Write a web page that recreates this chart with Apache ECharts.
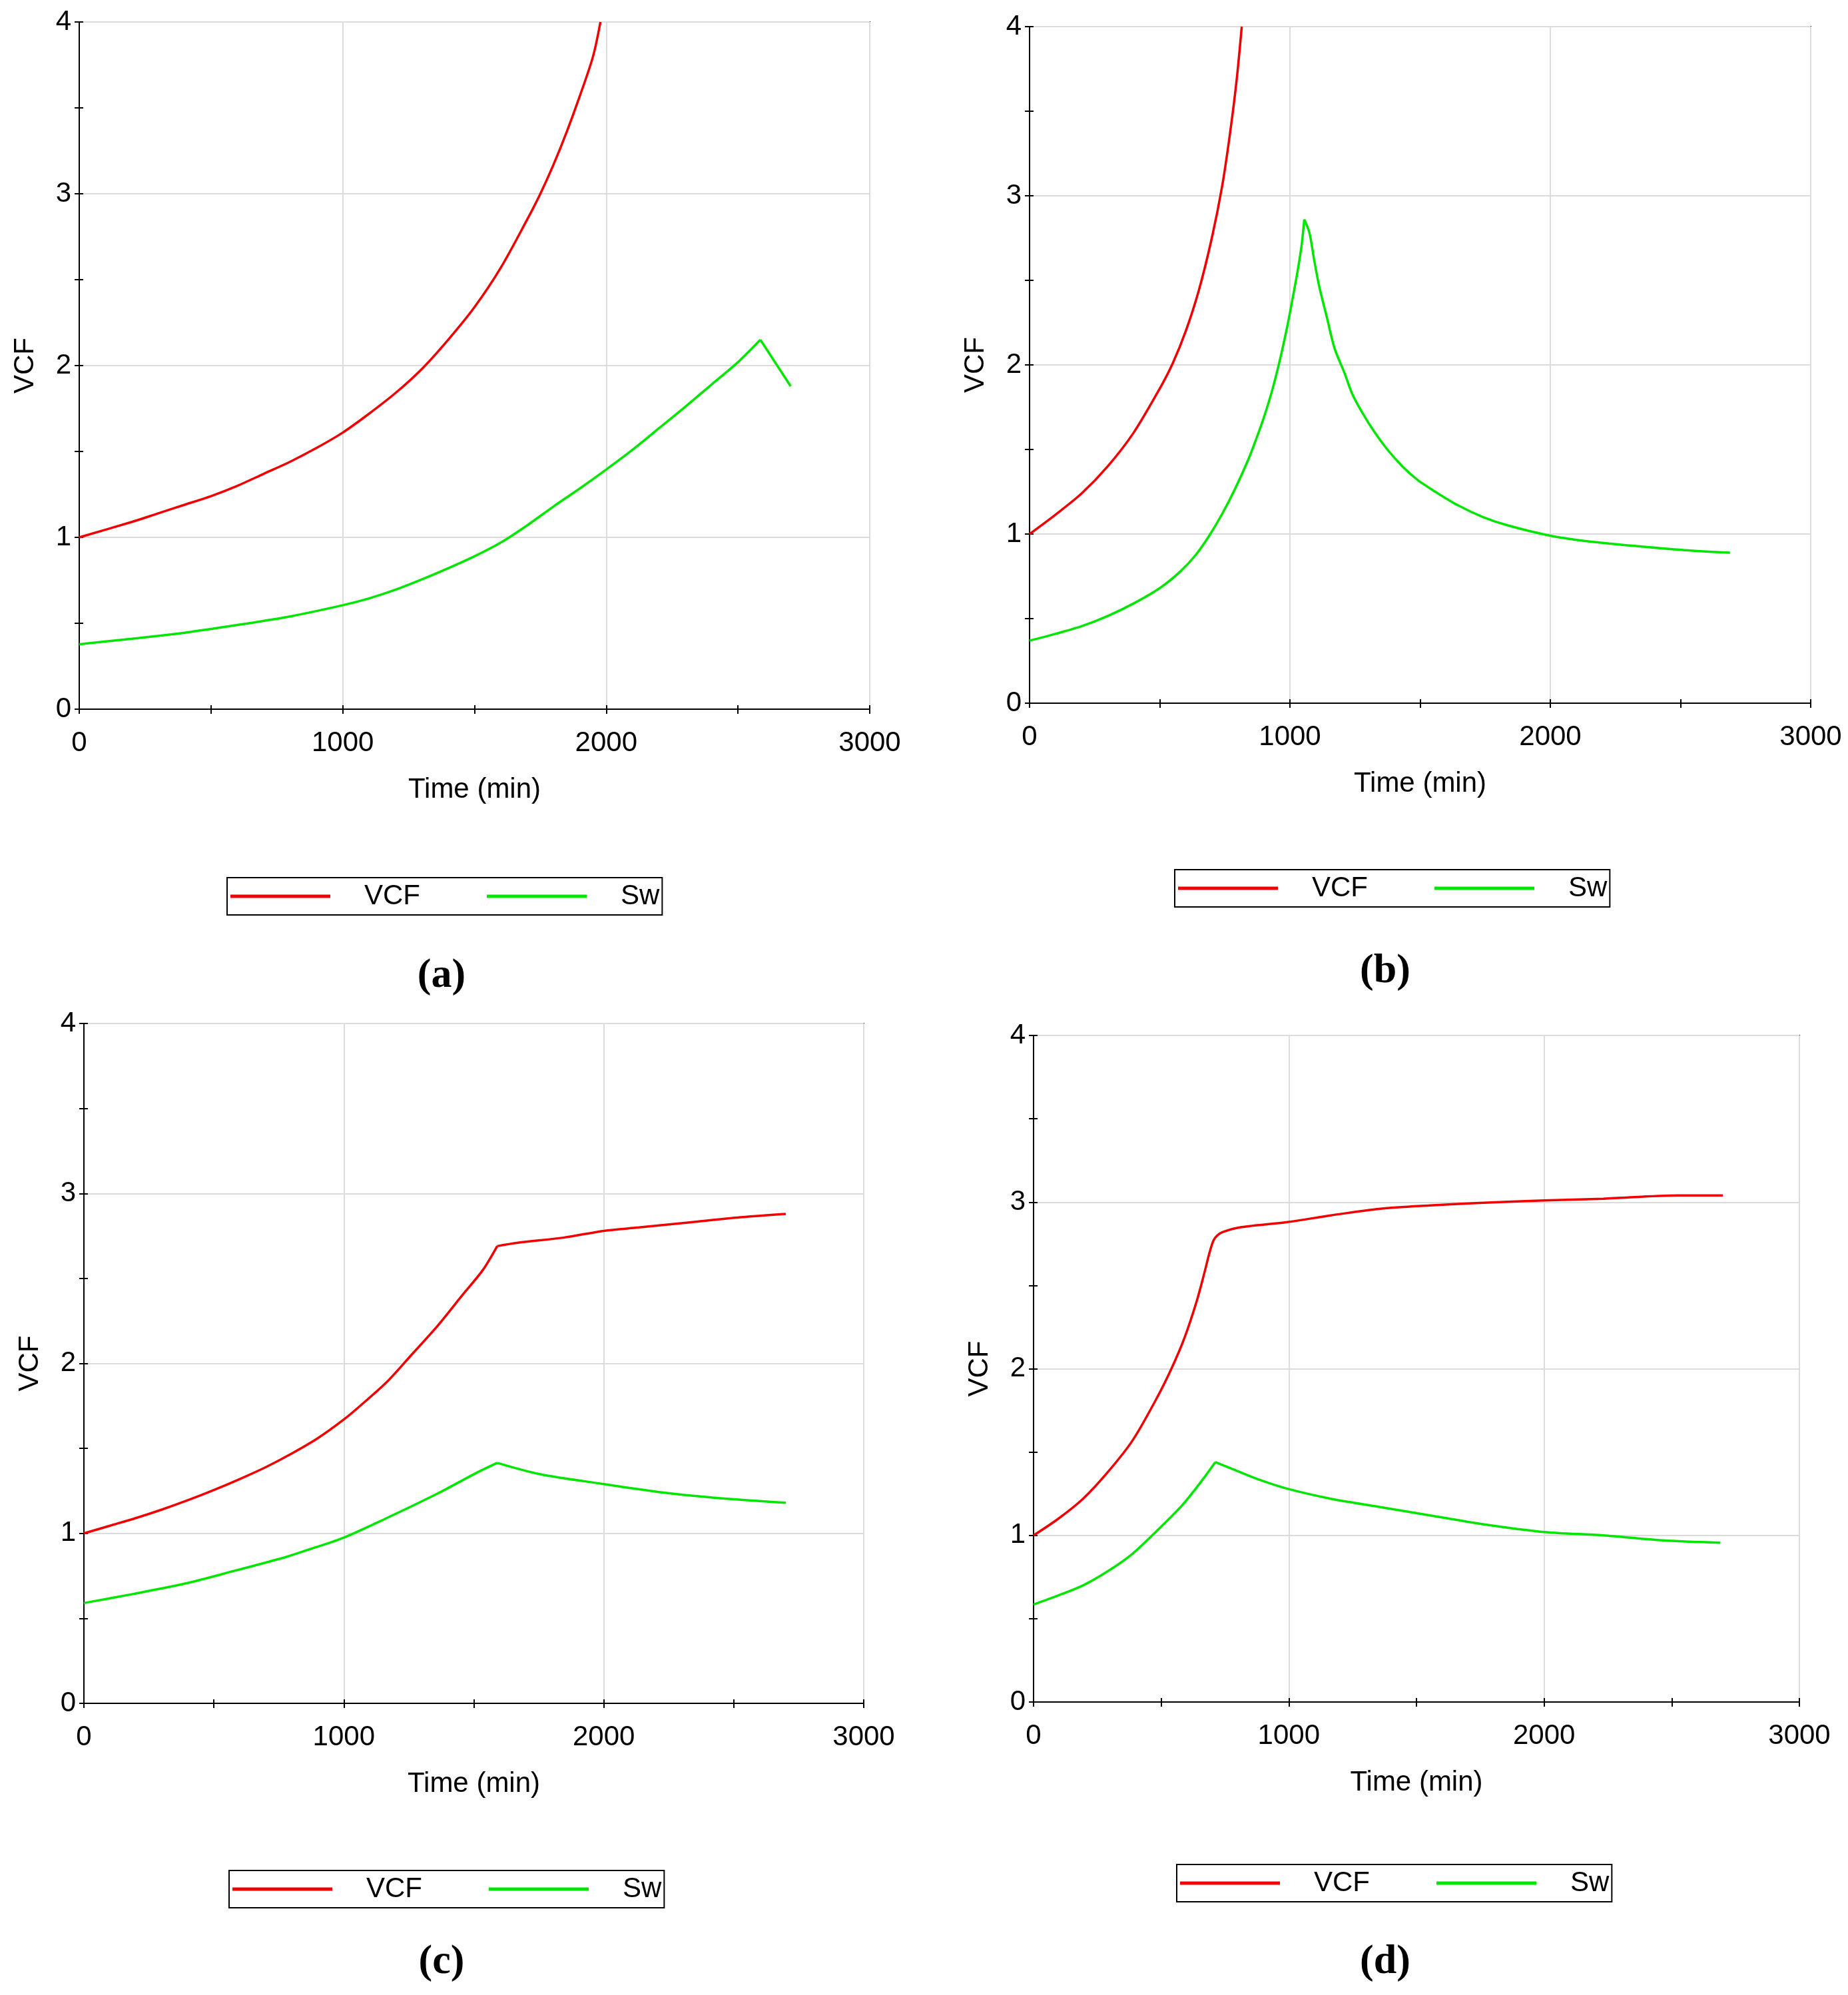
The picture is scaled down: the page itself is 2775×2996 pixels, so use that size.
<!DOCTYPE html>
<html>
<head>
<meta charset="utf-8">
<script src="https://cdn.jsdelivr.net/npm/echarts@6/dist/echarts.min.js"></script>
<style>
html,body{margin:0;padding:0;background:#fff;}
#chart{width:2775px;height:2996px;}
</style>
</head>
<body>
<div id="chart"></div>
<script>
// ---- data ----
const xTicks = [0, 1000, 2000, 3000];
const yTicks = [0, 1, 2, 3, 4];
const seriesNames = ['VCF', 'Sw'];
const panelLetters = ['a', 'b', 'c', 'd'];

const timeVcfA = [0,200,300,400,500,600,700,800,900,1000,1100,1200,1300,1400,1500,1600,1700,1750,1800,1850,1900,1950,1978];
const vcfA     = [1.00,1.09,1.14,1.19,1.24,1.30,1.37,1.44,1.52,1.61,1.72,1.84,1.98,2.15,2.34,2.57,2.85,3.00,3.17,3.36,3.57,3.80,4.00];
const timeSwA  = [0,200,400,600,800,1000,1100,1200,1300,1400,1500,1600,1700,1800,1900,2000,2100,2200,2300,2400,2500,2585,2700];
const swA      = [0.378,0.41,0.445,0.49,0.54,0.605,0.645,0.695,0.755,0.82,0.89,0.97,1.07,1.18,1.285,1.395,1.51,1.635,1.76,1.89,2.02,2.15,1.88];

const timeVcfB = [0,100,200,300,400,500,550,600,650,700,740,770,795,815];
const vcfB     = [1.00,1.115,1.24,1.40,1.60,1.86,2.01,2.20,2.44,2.75,3.06,3.37,3.68,4.00];
const timeSwB  = [0,100,200,300,400,500,580,640,690,740,790,840,870,900,930,960,990,1010,1030,1045,1055,1075,1093,1113,1142,1171,1210,1239,1277,1326,1374,1432,1490,1548,1645,1742,1839,2000,2129,2322,2516,2690];
const swB      = [0.37,0.41,0.455,0.515,0.59,0.68,0.78,0.88,0.99,1.12,1.27,1.44,1.56,1.69,1.84,2.02,2.23,2.39,2.56,2.71,2.86,2.78,2.62,2.46,2.28,2.10,1.95,1.83,1.72,1.60,1.50,1.40,1.32,1.26,1.17,1.10,1.05,0.99,0.96,0.93,0.905,0.89];

const timeVcfC = [0,100,200,300,400,500,600,700,800,900,1000,1070,1165,1260,1360,1455,1535,1590,1670,1845,2000,2135,2330,2525,2700];
const vcfC     = [1.00,1.045,1.09,1.14,1.195,1.255,1.32,1.39,1.47,1.56,1.67,1.76,1.89,2.05,2.22,2.40,2.55,2.69,2.71,2.74,2.78,2.80,2.83,2.86,2.88];
const timeSwC  = [0,195,390,580,775,875,1000,1165,1360,1515,1590,1750,2000,2230,2425,2700];
const swC      = [0.59,0.645,0.705,0.78,0.86,0.91,0.975,1.09,1.234,1.36,1.415,1.35,1.29,1.24,1.21,1.18];

const timeVcfD = [0,97,194,291,388,485,543,590,640,670,690,705,720,740,815,994,1164,1358,1553,1747,2000,2232,2523,2700];
const vcfD     = [1.00,1.10,1.22,1.38,1.57,1.83,2.01,2.18,2.41,2.58,2.70,2.77,2.80,2.82,2.85,2.88,2.92,2.96,2.98,2.995,3.01,3.02,3.04,3.04];
const timeSwD  = [0,97,194,291,388,485,582,660,712,776,873,994,1164,1358,1553,1747,2000,2232,2465,2690];
const swD      = [0.585,0.64,0.70,0.785,0.89,1.03,1.18,1.33,1.44,1.40,1.34,1.28,1.22,1.17,1.12,1.07,1.02,1.00,0.97,0.956];

// times where a curve has a sharp corner (null = none)
const kinksA = [null, 2585];
const kinksB = [null, 1055];
const kinksC = [1590, 1590];
const kinksD = [null, 712];

const panelData = [
  [[timeVcfA, vcfA], [timeSwA, swA]],
  [[timeVcfB, vcfB], [timeSwB, swB]],
  [[timeVcfC, vcfC], [timeSwC, swC]],
  [[timeVcfD, vcfD], [timeSwD, swD]]
];
const panelKinks = [kinksA, kinksB, kinksC, kinksD];

// ---- layout ----
const grids = [
  {left:119,  top:33,   width:1187, height:1032},
  {left:1546, top:40,   width:1173, height:1016},
  {left:126,  top:1537, width:1171, height:1021},
  {left:1552, top:1555, width:1150, height:1001}
];
const legendPos = [
  {left:341,  top:1318},
  {left:1764, top:1306},
  {left:344,  top:2809},
  {left:1767, top:2800}
];
const captionPos = [
  {x:658,  y:1466},
  {x:2075, y:1459},
  {x:658,  y:2947},
  {x:2075, y:2947}
];
const colors = ['#f00000', '#00e600'];
const sans = '"Liberation Sans", Arial, sans-serif';
const serif = '"Liberation Serif", "DejaVu Serif", serif';

const xMin = xTicks[0], xMax = xTicks[xTicks.length-1];
const yMin = yTicks[0], yMax = yTicks[yTicks.length-1];

const option = {
  backgroundColor: '#fff',
  animation: false,
  grid: [], xAxis: [], yAxis: [], series: [], legend: [], title: []
};

const plain = v => String(v);

grids.forEach((g, i) => {
  option.grid.push(Object.assign({show:true, borderColor:'#000', borderWidth:2, backgroundColor:'transparent', containLabel:false}, g));
  option.xAxis.push({
    type:'value', gridIndex:i, min:xMin, max:xMax, interval:1000,
    name:'Time (min)', nameLocation:'middle', nameGap:100,
    nameTextStyle:{fontFamily:sans, fontSize:42, color:'#000'},
    axisLine:{show:true, onZero:false, lineStyle:{color:'#000', width:2}},
    axisTick:{show:true, inside:false, length:7, lineStyle:{color:'#000', width:2}},
    minorTick:{show:true, splitNumber:2, length:7, lineStyle:{color:'#000', width:2}},
    axisLabel:{show:true, margin:30, fontFamily:sans, fontSize:42, color:'#000', formatter:plain},
    splitLine:{show:true, lineStyle:{color:'#dcdcdc', width:2}},
    minorSplitLine:{show:false}
  });
  option.yAxis.push({
    type:'value', gridIndex:i, min:yMin, max:yMax, interval:1,
    name:'VCF', nameLocation:'middle', nameGap:60, nameRotate:90,
    nameTextStyle:{fontFamily:sans, fontSize:42, color:'#000'},
    axisLine:{show:true, onZero:false, lineStyle:{color:'#000', width:2}},
    axisTick:{show:true, inside:false, length:7, lineStyle:{color:'#000', width:2}},
    minorTick:{show:true, splitNumber:2, length:7, lineStyle:{color:'#000', width:2}},
    axisLabel:{show:true, margin:12, fontFamily:sans, fontSize:42, color:'#000', formatter:plain},
    splitLine:{show:true, lineStyle:{color:'#dcdcdc', width:2}},
    minorSplitLine:{show:false}
  });
  // inner tick duplicates (ticks cross the axis line)
  option.xAxis.push({
    type:'value', gridIndex:i, min:xMin, max:xMax, interval:1000, position:'bottom',
    axisLine:{show:false}, axisLabel:{show:false}, splitLine:{show:false},
    axisTick:{show:true, inside:true, length:6, lineStyle:{color:'#000', width:2}},
    minorTick:{show:true, splitNumber:2, length:6, lineStyle:{color:'#000', width:2}}
  });
  option.yAxis.push({
    type:'value', gridIndex:i, min:yMin, max:yMax, interval:1, position:'left',
    axisLine:{show:false}, axisLabel:{show:false}, splitLine:{show:false},
    axisTick:{show:true, inside:true, length:6, lineStyle:{color:'#000', width:2}},
    minorTick:{show:true, splitNumber:2, length:6, lineStyle:{color:'#000', width:2}}
  });

  panelData[i].forEach((pair, k) => {
    const [ts, vs] = pair;
    const pts = ts.map((t, j) => [t, vs[j]]);
    const kink = panelKinks[i][k];
    const segments = kink == null ? [pts] : [pts.filter(p => p[0] <= kink), pts.filter(p => p[0] >= kink)];
    segments.forEach(seg => {
      option.series.push({
        type:'line', name:seriesNames[k],
        xAxisIndex:i*2, yAxisIndex:i*2,
        data: seg,
        symbol:'none', showSymbol:false, clip:true,
        smooth:0.3,
        lineStyle:{color:colors[k], width:3.5},
        itemStyle:{color:colors[k]}
      });
    });
  });

  option.legend.push({
    left:legendPos[i].left, top:legendPos[i].top,
    orient:'horizontal', selectedMode:false,
    data: seriesNames.map(n => ({name:n})),
    itemWidth:150, itemHeight:5, itemGap:100,
    padding:[7,4,7,5],
    borderColor:'#000', borderWidth:2, backgroundColor:'#fff',
    textStyle:{fontFamily:sans, fontSize:42, color:'#000', padding:[0,0,0,46]},
    icon:'rect'
  });

  option.title.push({
    text:'{p|(}{b|' + panelLetters[i] + '}{p|)}',
    left:captionPos[i].x, top:captionPos[i].y - 36, textAlign:'center',
    textStyle:{
      rich:{
        p:{fontFamily:serif, fontSize:62, color:'#000'},
        b:{fontFamily:serif, fontSize:62, fontWeight:'bold', color:'#000'}
      }
    }
  });
});

const chart = echarts.init(document.getElementById('chart'), null, {renderer:'canvas', width:2775, height:2996});
chart.setOption(option);
</script>
</body>
</html>
